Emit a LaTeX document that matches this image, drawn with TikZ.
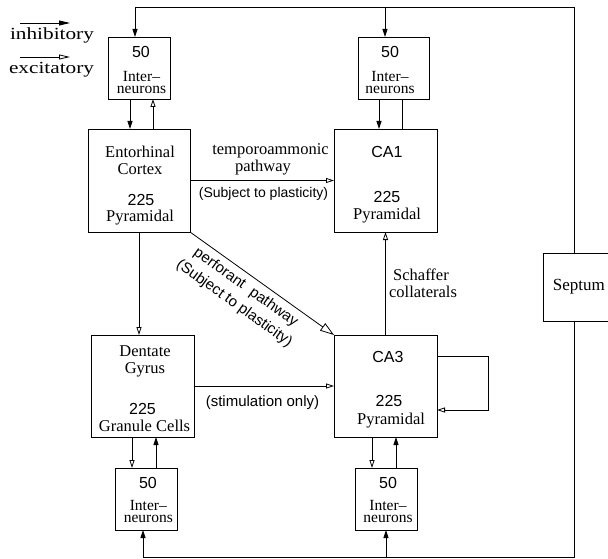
\documentclass[tikz,border=0pt]{standalone}
\usepackage{fontspec}
\setmainfont{Liberation Serif}
\newfontfamily\hv{Liberation Sans}
\usetikzlibrary{arrows.meta}
\begin{document}
\begin{tikzpicture}[x=1pt,y=-1pt,line width=0.8pt,
  box/.style={draw, inner sep=0pt, outer sep=0pt, anchor=north west},
  tx/.style={inner sep=0pt, anchor=base, font=\fontsize{16.5}{18}\selectfont},
  txs/.style={inner sep=0pt, anchor=base, font=\hv\fontsize{16}{18}\selectfont},
  txi/.style={inner sep=0pt, anchor=center, align=center, font=\fontsize{15.5}{12}\selectfont},
  lbs/.style={inner sep=0pt, anchor=base, font=\hv\fontsize{14}{16}\selectfont},
  inh/.style={-{Triangle[length=8pt,width=5pt]}},
  exc/.style={-{Triangle[open,length=8pt,width=5pt]}},
  inhl/.style={-{Triangle[length=11pt,width=5pt]}},
  excl/.style={-{Triangle[open,length=11pt,width=5pt]}},
  bigexc/.style={-{Triangle[open,length=14pt,width=9pt]}}]
\useasboundingbox (0,0) rectangle (608,559);

% legend
\coordinate (l1a) at (20,23); \coordinate (l1b) at (70,23);
\coordinate (l2a) at (20,57); \coordinate (l2b) at (70,57);
\draw[inhl] (l1a) -- (l1b);
\draw[excl] (l2a) -- (l2b);
\node[inner sep=0pt, anchor=base, font=\fontsize{17}{19}\selectfont] (lg1) at (52,40) {\scalebox{1.25}[1]{inhibitory}};
\node[inner sep=0pt, anchor=base, font=\fontsize{17}{19}\selectfont] (lg2) at (51.5,74) {\scalebox{1.25}[1]{excitatory}};

% boxes
\node[box, minimum width=62pt, minimum height=62pt] (ecint) at (108,37) {};
\node[box, minimum width=71pt, minimum height=62pt] (ca1int) at (358,37) {};
\node[box, minimum width=102pt, minimum height=103pt] (ec) at (88,129) {};
\node[box, minimum width=103pt, minimum height=103pt] (ca1) at (334,129) {};
\node[box, minimum width=103pt, minimum height=102pt] (dg) at (91,335) {};
\node[box, minimum width=103pt, minimum height=102pt] (ca3) at (334,335) {};
\node[box, minimum width=62pt, minimum height=62pt] (dgint) at (115,468) {};
\node[box, minimum width=62pt, minimum height=62pt] (ca3int) at (355,468) {};
\node[box, minimum width=72pt, minimum height=68pt] (septum) at (543,253) {};

% box texts
\node[txs] (ecint1) at (141,57.3) {50};
\node[txi] (ecint2) at (141.5,82.2) {Inter–\\neurons};
\node[txs] (ca1int1) at (390,57.3) {50};
\node[txi] (ca1int2) at (390,82.2) {Inter–\\neurons};
\node[txs] (dgint1) at (148,488) {50};
\node[txi] (dgint2) at (148.3,511.6) {Inter–\\neurons};
\node[txs] (ca3int1) at (388,488) {50};
\node[txi] (ca3int2) at (388,511.6) {Inter–\\neurons};

\node[tx] (ec1) at (140,157.3) {Entorhinal};
\node[tx] (ec2) at (140,174.3) {Cortex};
\node[txs] (ec3) at (141,205) {225};
\node[tx] (ec4) at (140,222) {Pyramidal};

\node[txs] (ca11) at (387,157.3) {CA1};
\node[txs] (ca12) at (387,202.3) {225};
\node[tx] (ca13) at (387,219.3) {Pyramidal};

\node[tx] (dg1) at (145,356.7) {Dentate};
\node[tx] (dg2) at (145,373) {Gyrus};
\node[txs] (dg3) at (142.5,414) {225};
\node[tx] (dg4) at (144.5,431) {Granule Cells};

\node[txs] (ca31) at (388,362.7) {CA3};
\node[txs] (ca32) at (389,406.7) {225};
\node[tx] (ca33) at (391,424.3) {Pyramidal};

\node[tx, font=\fontsize{17}{19}\selectfont] (sep1) at (578.8,290) {Septum};

% connector labels
\node[tx] (ta1) at (270.5,155) {temporoammonic};
\node[tx] (ta2) at (263,171.7) {pathway};
\node[lbs] (ta3) at (263.5,197.3) {(Subject to plasticity)};
\node[tx] (sc1) at (421,280.7) {Schaffer};
\node[tx] (sc2) at (423,297.7) {collaterals};
\node[lbs, font=\hv\fontsize{15}{17}\selectfont] (st1) at (262.5,406.7) {(stimulation only)};
\node[inner sep=0pt, rotate=-35.6, align=center, font=\hv\fontsize{15}{19.8}\selectfont] (pp) at (240,295.5) {perforant\ \ pathway\\(Subject to plasticity)};

% septal feedback lines
\coordinate (tl) at (135,7); \coordinate (tr) at (574,7); \coordinate (t2) at (385,7);
\coordinate (bl) at (143,557); \coordinate (br) at (574,557); \coordinate (b2) at (386,557);
\draw[inh] (septum.north -| tr) -- (tr) -- (tl) -- (tl |- ecint.north);
\draw[inh] (t2) -- (t2 |- ca1int.north);
\draw[inh] (septum.south -| br) -- (br) -- (bl) -- (bl |- dgint.south);
\draw[inh] (b2) -- (b2 |- ca3int.south);

% interneuron loops
\draw[inh] ([xshift=-9]ecint.south) -- ([xshift=-9]ecint.south |- ec.north);
\draw[exc] ([xshift=14]ecint.south |- ec.north) -- ([xshift=14]ecint.south);
\draw[inh] ([xshift=-14.5]ca1int.south) -- ([xshift=-14.5]ca1int.south |- ca1.north);
\draw ([xshift=8.5]ca1int.south |- ca1.north) -- ([xshift=8.5]ca1int.south);
\draw[exc] ([xshift=-10.5]dg.south) -- ([xshift=-10.5]dg.south |- dgint.north);
\draw[inh] ([xshift=13.5]dg.south |- dgint.north) -- ([xshift=13.5]dg.south);
\draw[exc] ([xshift=-13.5]ca3.south) -- ([xshift=-13.5]ca3.south |- ca3int.north);
\draw[inh] ([xshift=10.5]ca3.south |- ca3int.north) -- ([xshift=10.5]ca3.south);

% main pathways
\draw[exc] (ec.east) -- (ec.east -| ca1.west);
\draw[exc] (ec.south) -- (ec.south |- dg.north);
\draw[bigexc] (ec.south east) -- (ca3.north west);
\draw[exc] (dg.east) -- (dg.east -| ca3.west);
\draw[exc] (ca3.north) -- (ca3.north |- ca1.south);
\draw[exc] ([yshift=-21]ca3.north east) -- ++(51,0) -- ++(0,54) -- ([yshift=-75]ca3.north east);
\end{tikzpicture}
\end{document}
